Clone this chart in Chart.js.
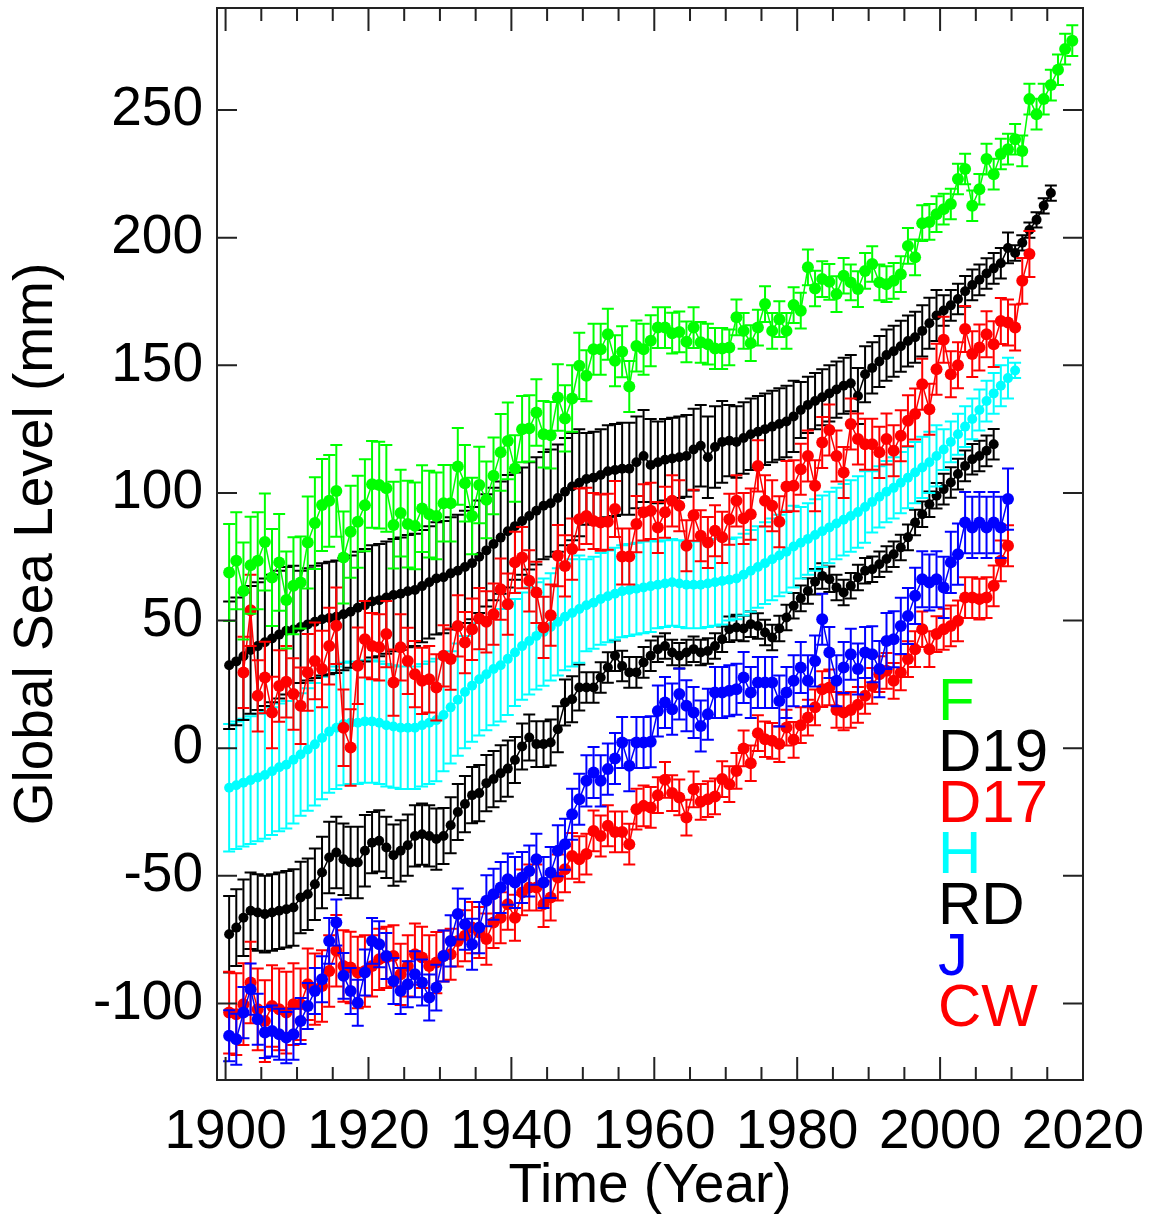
<!DOCTYPE html>
<html>
<head>
<meta charset="utf-8">
<script src="https://cdn.jsdelivr.net/npm/chart.js@4.4.1/dist/chart.umd.min.js"></script>
<style>
  html, body { margin: 0; padding: 0; background: #fff; }
</style>
</head>
<body>
<canvas id="seaChart" width="1155" height="1221"></canvas>
<script>
// Series values (mm), one per year starting at the given year
const fStart = 1900;
const fLevels = [68.8, 73.4, 61.6, 71.7, 73.4, 80.8, 66.9, 72.8, 58.1, 63.6,
  64.9, 80.6, 88.2, 95.3, 96.9, 100.8, 74.7, 84.8, 88.7, 95.2,
  103.4, 103.1, 101.8, 87.4, 92.1, 87.8, 87.1, 93.9, 91.7, 91.0,
  96.0, 96.0, 110.4, 103.8, 91.0, 103.1, 97.3, 106.7, 115.9, 120.4,
  109.6, 125.0, 125.3, 131.5, 123.0, 122.6, 137.4, 129.2, 137.0, 149.8,
  145.9, 156.3, 156.3, 162.2, 151.8, 155.3, 141.7, 157.6, 156.3, 159.6,
  164.8, 164.8, 162.6, 163.1, 159.2, 164.8, 159.0, 158.3, 156.6, 156.6,
  157.0, 168.8, 163.5, 158.7, 164.8, 174.0, 163.5, 168.1, 163.5, 173.6,
  171.4, 188.4, 180.1, 183.8, 182.7, 177.9, 185.1, 182.5, 179.9, 187.0,
  189.7, 182.5, 181.8, 183.1, 185.7, 196.8, 192.3, 205.7, 206.2, 209.2,
  211.2, 213.2, 223.0, 226.9, 212.5, 219.0, 230.8, 224.9, 232.8, 234.7,
  238.6, 234.0, 254.3, 248.4, 254.3, 259.8, 265.8, 273.9, 277.2];

const d19Start = 1900;
const d19Levels = [32.5, 34, 36, 38.5, 40, 41.5, 43, 44.5, 46, 46.5,
  47.5, 48.5, 49.5, 50.5, 51, 51.5, 52.5, 53.5, 55, 56,
  57.5, 58, 59, 60, 60.5, 61.5, 62, 63.5, 65, 66.5,
  67, 68.5, 69.5, 71, 72.5, 75, 77.5, 80, 82.5, 85,
  87, 89, 91, 93, 95, 96, 98, 100.5, 102.5, 104,
  105.5, 106, 107, 108.5, 109, 109.5, 109.5, 112, 114.5, 111,
  112, 113, 113.5, 114, 114.5, 117, 118.5, 114, 118, 120,
  120.5, 120, 121.5, 123, 124, 125, 126, 127, 128, 130,
  132.5, 134.5, 136, 137.5, 139, 140.5, 142, 143, 138, 146.5,
  149, 151.5, 154, 155.5, 157.5, 159.5, 161, 163.5, 166.5, 169.5,
  171.5, 173.5, 176, 179, 181.5, 183.5, 186, 188, 190, 196,
  194, 198, 203, 207, 212.5, 217.5];

const d17Start = 1902;
const d17Levels = [29.7, 54, 20.5, 27.7, 14, 24.4, 26, 21.2,
  16.6, 29.7, 34.2, 31, 40, 48, 8, 0.3, 32.3, 42.7,
  40, 39.5, 44.7, 25.7, 39.5, 34.2, 29, 26.4, 27, 23.8,
  36.2, 34.9, 47.9, 41.4, 46.6, 50.8, 49.5, 52.5, 62.3, 56.4,
  72.8, 74.7, 65.6, 61, 47.3, 52.1, 75.4, 71.4, 78, 89.7,
  91, 89, 88.4, 88.7, 93.7, 75.1, 75.1, 87.8, 92.4, 93,
  86.5, 92.4, 96.9, 95, 79.3, 91.3, 83.2, 80.6, 85.2, 82.6,
  89.7, 96.9, 90, 91.7, 110.6, 96.9, 95, 88.7, 102.5, 102.8,
  109.3, 114.5, 102.8, 119.8, 124.7, 114.5, 108, 127, 121.1, 119.1,
  119.1, 115.9, 121.1, 116.5, 122.4, 128.3, 130.9, 142.6, 132.8, 148.5,
  160, 146.5, 150, 164.2, 154.4, 157, 162.2, 158.3, 167.4, 166.8,
  164.8, 183.1, 193.6];

const hStart = 1900;
const hLevels = [-15.5, -14.5, -13.5, -12.5, -11.5, -10.5, -9, -7.5, -6.5, -4.5,
  -2.5, -0.5, 1.5, 4, 6.5, 8, 9.5, 10, 10, 10.5,
  10.5, 10, 9, 8.5, 8, 8, 8, 9, 10, 11,
  13, 16, 19, 22, 24.5, 27, 29, 31, 32.5, 35,
  37.5, 40, 42, 44, 45.5, 47.5, 49.5, 51.5, 53, 54.5,
  56, 57, 58.5, 59.5, 60.5, 61.5, 62, 62.5, 63, 63.5,
  64, 64.5, 65, 64.5, 64, 64, 64, 64.5, 65, 65.5,
  66, 66.5, 68, 69.5, 71, 72.5, 74, 75.5, 77, 79,
  80.5, 82, 83.5, 85, 86.5, 88, 89.5, 91, 92.5, 94.5,
  96.5, 98.5, 100.5, 102, 104, 106, 108, 110, 112, 114.5,
  117, 120, 123, 126, 129, 132.5, 136, 139, 142, 145,
  148];

const rdStart = 1900;
const rdLevels = [-72.9, -70.3, -66.4, -63.7, -64.4, -65, -64.4, -63.7, -63.1, -62.4,
  -58.5, -57.2, -53.3, -48.7, -42.8, -40.9, -43.5, -44.8, -44.8, -40.2,
  -37, -36.3, -38.9, -41.9, -40.2, -38, -34.4, -33.7, -34.4, -35.6,
  -34.4, -30.2, -25, -21.9, -18.4, -17.6, -13.7, -12.1, -9.8, -8,
  -4.6, 0.7, 4.2, 1.6, 1.6, 2.2, 7.4, 17.9, 19.2, 23.8,
  23.8, 23.8, 27.7, 31.6, 36.2, 32.2, 29.7, 29.7, 33.6, 36.2,
  38.8, 40, 37.5, 36.2, 37.5, 38.8, 37.5, 38.1, 40, 42.7,
  46.6, 47.3, 46.9, 48.6, 47.9, 45.3, 43.4, 46.9, 51.2, 55.8,
  58.7, 61.6, 65.2, 67.5, 66.2, 63, 61, 63.6, 66.9, 69.5,
  70.1, 72.1, 74.1, 76, 78.6, 82.6, 88.4, 91.7, 95.6, 98.9,
  101.5, 104.1, 107.4, 110.6, 113.2, 114.5, 116.5, 119.1];

const jStart = 1900;
const jLevels = [-112.7, -114, -103.6, -94.4, -106.2, -111.4, -110.8, -112.1, -113.4, -112.1,
  -106.9, -101, -95.1, -90.5, -75.5, -68.3, -89.2, -95.1, -99.7, -87.9,
  -75.5, -76.8, -81.4, -91.2, -95.1, -92.5, -88.6, -91.8, -97.7, -93.8,
  -81.4, -75.5, -65, -69, -76.8, -70.3, -59.8, -57.2, -54.6, -51.3,
  -52.6, -50.7, -48.1, -43.5, -52.6, -48.7, -40.2, -37.6, -25.9, -20,
  -12.8, -9.5, -12.8, -8.2, -4, 2.2, -6.9, 2.2, 2.2, 2.5,
  14.6, 17.9, 15.3, 21.2, 16.6, 14, 8.7, 13.3, 21.8, 21.8,
  22.5, 23.1, 27.7, 21.8, 25.7, 25.7, 25.7, 18.5, 21.8, 26.4,
  31.6, 26.4, 34.2, 50.5, 37.5, 26.4, 31.6, 36.8, 31, 37.5,
  36.8, 31, 42, 42.7, 47.9, 51.8, 59.7, 66.2, 64.9, 66.2,
  63, 72.8, 76, 88.4, 86.5, 88.4, 86.5, 88.4, 86.5, 97.6];

const cwStart = 1900;
const cwLevels = [-103.6, -104.2, -100.3, -91.8, -102.3, -106.9, -101, -102.3, -103.6, -100.3,
  -100.3, -92.5, -94.4, -93.2, -87.3, -79.4, -85.3, -85.9, -87.9, -87.3,
  -85.3, -82.7, -82, -81.4, -88.6, -85.3, -80.7, -82, -85.3, -84,
  -81.4, -80.7, -75.5, -73.5, -70.3, -72.2, -74.8, -68.3, -66.4, -61.1,
  -66.4, -56.5, -54.6, -54.6, -61.1, -58.5, -50.7, -47.4, -42.2, -43.5,
  -41.5, -32.4, -34.4, -30.4, -32.8, -32.8, -37.6, -23.9, -22.6, -23.2,
  -18.4, -12.4, -17.6, -19.3, -27.2, -16.1, -21, -20, -18.9, -12.1,
  -14.1, -8.9, -0.1, -5.9, 5.9, 3.5, 2.9, 1.6, 8.1, 3.3,
  9, 12, 16, 23.1, 23.8, 15, 14, 15, 17, 20.5,
  24.4, 29, 30.3, 26.4, 29.7, 34.9, 38.8, 46.6, 38.8, 44.7,
  46.6, 47.9, 49.9, 59, 59, 58.4, 59, 63.6, 73.4, 79.3];

// Error bar half-widths (mm), one value per decade 1900s..2010s
const fErrByDecade = [19, 18, 17, 15, 13, 10, 8, 7, 7, 7, 6, 6];
const d19ErrByDecade = [25, 22, 22, 22, 21, 18, 16, 14, 11, 10, 6, 3];
const d17ErrByDecade = [14, 15, 13, 12, 12, 11, 10, 10, 10, 10, 9, 9];
const hErrByDecade = [25, 24, 24, 22, 21, 18, 17, 16, 14, 12, 8, 3];
const rdErrByDecade = [15, 14, 12, 11, 9, 6, 5, 5, 5, 5, 6, 6];
const jErrByDecade = [10, 9, 9, 10, 10, 10, 10, 10, 10, 11, 12, 12];
const cwErrByDecade = [16, 14, 12, 10, 9, 8, 7, 7, 7, 7, 8, 8];

// Axis ticks
const xTicks = [1900, 1920, 1940, 1960, 1980, 2000, 2020];
const yTicks = [-100, -50, 0, 50, 100, 150, 200, 250];

const labelFont = "'Liberation Sans', Arial, sans-serif";

function buildPoints(start, levels) {
  return levels.map((v, i) => ({ x: start + i + 0.5, y: v }));
}

function buildErrors(start, levels, byDecade) {
  return levels.map((v, i) => byDecade[Math.floor((start + i - 1900) / 10)]);
}

function makeDataset(label, color, start, levels, byDecade, order, radius) {
  return {
    label: label,
    data: buildPoints(start, levels),
    errors: buildErrors(start, levels, byDecade),
    borderColor: color,
    backgroundColor: color,
    borderWidth: 1.5,
    pointRadius: radius,
    pointBorderWidth: 0,
    pointBackgroundColor: color,
    order: order
  };
}

// Error bars drawn just before each dataset, so layering follows the datasets
const errorBarPlugin = {
  id: 'errorBars',
  beforeDatasetDraw(chart, args) {
    const ds = chart.data.datasets[args.index];
    if (!ds.errors) return;
    const ctx = chart.ctx;
    const yScale = chart.scales.y;
    const area = chart.chartArea;
    const cap = 6;
    ctx.save();
    ctx.beginPath();
    ctx.rect(area.left, area.top, area.right - area.left, area.bottom - area.top);
    ctx.clip();
    ctx.strokeStyle = ds.borderColor;
    ctx.lineWidth = 2;
    ctx.beginPath();
    args.meta.data.forEach((pt, i) => {
      const v = ds.data[i].y;
      const e = ds.errors[i];
      const top = yScale.getPixelForValue(v + e);
      const bot = yScale.getPixelForValue(v - e);
      ctx.moveTo(pt.x, top);
      ctx.lineTo(pt.x, bot);
      ctx.moveTo(pt.x - cap, top);
      ctx.lineTo(pt.x + cap, top);
      ctx.moveTo(pt.x - cap, bot);
      ctx.lineTo(pt.x + cap, bot);
    });
    ctx.stroke();
    ctx.restore();
  }
};

// Box frame with inward ticks on all four sides
const framePlugin = {
  id: 'frame',
  afterDatasetsDraw(chart) {
    const ctx = chart.ctx;
    const area = chart.chartArea;
    const xs = chart.scales.x;
    const ys = chart.scales.y;
    ctx.save();
    ctx.strokeStyle = '#222';
    ctx.lineWidth = 2;
    ctx.strokeRect(area.left, area.top, area.right - area.left, area.bottom - area.top);
    ctx.beginPath();
    for (let yr = 1900; yr <= 2020; yr += 5) {
      const px = xs.getPixelForValue(yr);
      const len = yr % 20 === 0 ? 23 : 13;
      ctx.moveTo(px, area.bottom);
      ctx.lineTo(px, area.bottom - len);
      ctx.moveTo(px, area.top);
      ctx.lineTo(px, area.top + len);
    }
    yTicks.forEach(v => {
      const py = ys.getPixelForValue(v);
      ctx.moveTo(area.left, py);
      ctx.lineTo(area.left + 20, py);
      ctx.moveTo(area.right, py);
      ctx.lineTo(area.right - 20, py);
    });
    ctx.stroke();
    ctx.restore();
  }
};

// Coloured series names inside the plot
const legendItems = [
  { text: 'F', color: '#00ff00' },
  { text: 'D19', color: '#000000' },
  { text: 'D17', color: '#ff0000' },
  { text: 'H', color: '#00ffff' },
  { text: 'RD', color: '#000000' },
  { text: 'J', color: '#0000ff' },
  { text: 'CW', color: '#ff0000' }
];

const namesPlugin = {
  id: 'seriesNames',
  afterDatasetsDraw(chart) {
    const ctx = chart.ctx;
    const area = chart.chartArea;
    ctx.save();
    ctx.font = '60px ' + labelFont;
    ctx.textAlign = 'left';
    ctx.textBaseline = 'alphabetic';
    legendItems.forEach((item, i) => {
      ctx.fillStyle = item.color;
      ctx.fillText(item.text, area.left + 721, area.top + 712 + i * 51);
    });
    ctx.restore();
  }
};

const ctx = document.getElementById('seaChart').getContext('2d');

const seaChart = new Chart(ctx, {
  type: 'line',
  data: {
    datasets: [
      makeDataset('F', '#00ff00', fStart, fLevels, fErrByDecade, 1, 6),
      makeDataset('D17', '#ff0000', d17Start, d17Levels, d17ErrByDecade, 2, 6),
      makeDataset('D19', '#000000', d19Start, d19Levels, d19ErrByDecade, 3, 5),
      makeDataset('H', '#00ffff', hStart, hLevels, hErrByDecade, 4, 5),
      makeDataset('J', '#0000ff', jStart, jLevels, jErrByDecade, 5, 6),
      makeDataset('CW', '#ff0000', cwStart, cwLevels, cwErrByDecade, 6, 6),
      makeDataset('RD', '#000000', rdStart, rdLevels, rdErrByDecade, 7, 5)
    ]
  },
  options: {
    responsive: false,
    devicePixelRatio: 1,
    animation: false,
    layout: { padding: { top: 8, right: 72, left: 0, bottom: 0 } },
    plugins: {
      legend: { display: false },
      tooltip: { enabled: false }
    },
    elements: { line: { tension: 0 } },
    scales: {
      x: {
        type: 'linear',
        min: 1898.8,
        max: 2020,
        border: { display: false },
        grid: { display: false, drawTicks: false },
        afterBuildTicks: scale => { scale.ticks = xTicks.map(v => ({ value: v })); },
        afterFit: scale => {
          scale.height = 141;
          scale.paddingLeft = 0;
          scale.paddingRight = 0;
        },
        ticks: {
          color: '#000',
          padding: 20,
          maxRotation: 0,
          autoSkip: false,
          font: { family: labelFont, size: 55 },
          callback: v => String(v)
        },
        title: {
          display: true,
          text: 'Time (Year)',
          color: '#000',
          font: { family: labelFont, size: 55 },
          padding: { top: 0, bottom: 1 }
        }
      },
      y: {
        min: -130,
        max: 290,
        border: { display: false },
        grid: { display: false, drawTicks: false },
        afterBuildTicks: scale => { scale.ticks = yTicks.map(v => ({ value: v })); },
        afterFit: scale => {
          scale.width = 217;
          scale.paddingTop = 0;
          scale.paddingBottom = 0;
        },
        ticks: {
          color: '#000',
          padding: 14,
          autoSkip: false,
          font: { family: labelFont, size: 55 },
          callback: v => String(v)
        },
        title: {
          display: true,
          text: 'Global Sea Level (mm)',
          color: '#000',
          font: { family: labelFont, size: 55 },
          padding: { top: 4, bottom: 0 }
        }
      }
    }
  },
  plugins: [errorBarPlugin, framePlugin, namesPlugin]
});
</script>
</body>
</html>
